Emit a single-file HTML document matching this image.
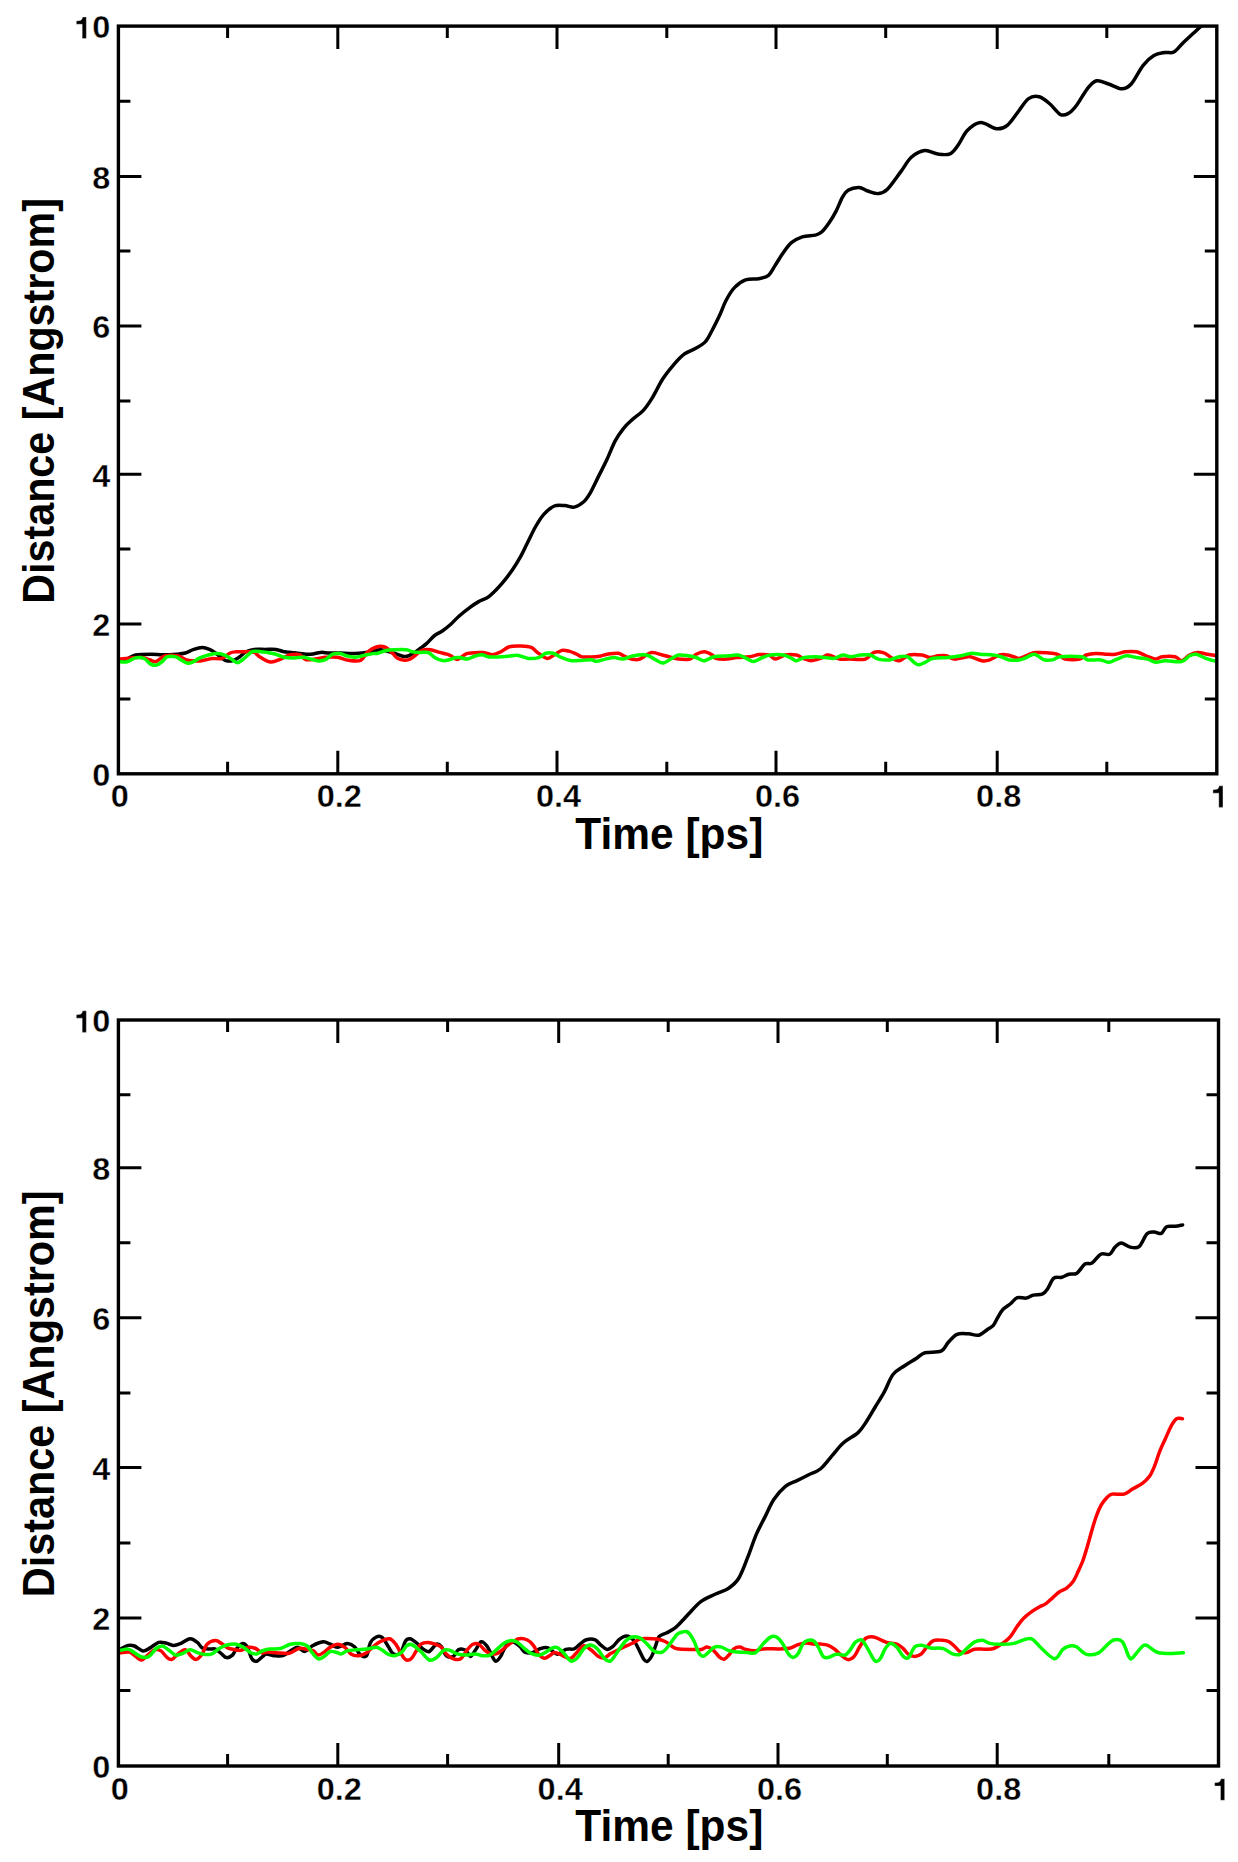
<!DOCTYPE html>
<html><head><meta charset="utf-8"><style>
html,body{margin:0;padding:0;background:#fff;width:1238px;height:1862px;overflow:hidden}
svg{display:block}
.t{font-family:'Liberation Sans', sans-serif;font-weight:bold;font-size:30.8px;fill:#000;stroke:#fff;stroke-width:0.35px}
.ti{font-family:'Liberation Sans', sans-serif;font-weight:bold;font-size:44px;fill:#000}
</style></head><body>
<svg width="1238" height="1862" viewBox="0 0 1238 1862">
<rect width="1238" height="1862" fill="#fff"/>
<clipPath id="c0"><rect x="118.4" y="26.1" width="1098.4" height="747.7"/></clipPath>
<path d="M227.6 773.8v-12M227.6 26.1v12M337.8 773.8v-23M337.8 26.1v23M447.3 773.8v-12M447.3 26.1v12M557 773.8v-23M557 26.1v23M666.8 773.8v-12M666.8 26.1v12M776 773.8v-23M776 26.1v23M885.7 773.8v-12M885.7 26.1v12M997.2 773.8v-23M997.2 26.1v23M1106.8 773.8v-12M1106.8 26.1v12M118.4 699.1h12M1216.8 699.1h-12M118.4 624.1h23M1216.8 624.1h-23M118.4 548.9h12M1216.8 548.9h-12M118.4 474.3h23M1216.8 474.3h-23M118.4 400.9h12M1216.8 400.9h-12M118.4 326.1h23M1216.8 326.1h-23M118.4 251h12M1216.8 251h-12M118.4 176.4h23M1216.8 176.4h-23M118.4 101.2h12M1216.8 101.2h-12" stroke="#000" stroke-width="3.0" fill="none"/>
<g clip-path="url(#c0)">
<path d="M118.4 660.5C119.9 660.2 124.2 659.9 127.1 659C130 658.1 131.5 655.8 135.6 655C139.7 654.2 146.9 654.2 151.4 654.2C155.9 654.2 158.1 654.8 162.3 654.8C166.5 654.8 173 654.5 176.8 654.2C180.6 653.9 182.5 653.8 185.3 653C188.1 652.2 191 650.3 193.8 649.4C196.6 648.5 199.6 647.6 202.2 647.6C204.8 647.6 207.3 648.5 209.5 649.4C211.7 650.3 213.6 651.6 215.6 653C217.6 654.4 219.8 656.6 221.6 657.9C223.4 659.2 224.5 660.5 226.5 660.9C228.5 661.3 231.5 661 233.7 660.3C235.9 659.6 237.8 658.1 239.8 656.7C241.8 655.3 243.5 653 245.9 651.8C248.3 650.6 251.1 649.8 254.3 649.4C257.5 649 261.4 649.4 265 649.4C268.6 649.4 272.6 649 275.8 649.4C279 649.8 281.6 651.3 284.2 651.8C286.8 652.3 288.9 652.1 291.5 652.4C294.1 652.7 296.8 653.2 300 653.5C303.2 653.8 307.5 654.4 310.9 654.2C314.3 654 317.6 652.6 320.6 652.4C323.6 652.2 325.9 652.9 329.1 653C332.3 653.1 335.7 652.9 340 653C344.3 653.1 350 653.7 355 653.5C360 653.3 365.8 652.6 370 652C374.2 651.4 376.5 649.5 380.5 649.7C384.5 649.9 390.3 652.2 394.2 653.3C398.1 654.4 401.2 656.2 403.9 656.5C406.6 656.8 407.7 656.2 410.4 654.9C413.1 653.6 417.4 650.4 420.1 648.5C422.8 646.6 424.1 645.8 426.5 643.6C428.9 641.4 431.9 637.6 434.6 635.5C437.3 633.4 440 632.6 442.7 630.7C445.4 628.8 448.1 626.6 450.8 624.2C453.5 621.8 455.7 619 458.9 616.2C462.1 613.4 466.7 609.7 470 607.3C473.3 604.9 475.5 603.4 478.7 601.6C481.9 599.8 485.3 599.3 489.2 596.3C493.1 593.3 498 588.1 501.8 583.7C505.6 579.3 509.1 574.7 512.3 570.1C515.4 565.5 518.2 560.8 520.7 556.4C523.2 552 524.5 548.7 527 543.8C529.5 538.9 532.6 531.9 535.4 527C538.2 522.1 540.6 517.9 543.8 514.4C546.9 510.9 550.8 507.5 554.3 506C557.8 504.5 561.5 505.4 564.8 505.6C568.1 505.8 571.1 507.7 574.3 507.1C577.4 506.5 581.1 504.1 583.7 501.8C586.3 499.5 587.5 497.6 590 493.4C592.5 489.2 595.6 482.2 598.4 476.6C601.2 471 604 465.8 606.8 459.8C609.6 453.9 612.4 446.1 615.2 440.9C618 435.6 620.8 431.8 623.6 428.3C626.4 424.8 628.8 422.8 632 419.9C635.2 416.9 639.8 414.2 643.1 410.6C646.4 407.1 648.5 403.9 651.8 398.6C655.1 393.3 659.1 384.6 662.7 379C666.3 373.4 670 369 673.6 364.8C677.2 360.6 680.9 356.6 684.5 353.9C688.1 351.2 691.9 350.5 695.4 348.5C698.9 346.5 702.5 344.8 705.2 341.9C707.9 339 709.4 335.4 711.8 331C714.2 326.6 717 320.9 719.4 315.8C721.8 310.7 723.5 305.2 726 300.5C728.5 295.8 731.4 290.8 734.7 287.4C738 283.9 741.6 281.2 745.6 279.8C749.6 278.4 754.9 279.4 758.7 278.7C762.5 278 765.8 277.6 768.5 275.4C771.2 273.2 772.6 269.2 775 265.6C777.4 262 780 257.4 782.7 253.6C785.4 249.8 788.1 245.5 791.4 242.7C794.7 239.9 798.3 238.1 802.3 236.8C806.3 235.5 812.1 235.9 815.4 235.1C818.7 234.3 819.5 234 821.9 231.8C824.3 229.6 827.2 225.4 829.6 222C832 218.6 833.9 215.3 836.1 211.1C838.3 206.9 840.6 200.4 842.6 196.9C844.6 193.4 845.4 191.9 848.1 190.3C850.8 188.7 855.7 187.4 859 187.5C862.3 187.6 864.4 190 867.7 191C871 192 875.3 193.9 878.6 193.6C881.9 193.3 883.7 192.9 887.4 189.3C891.1 185.7 896.7 177.2 900.7 171.9C904.7 166.6 907.3 160.9 911.3 157.3C915.3 153.8 920.2 151.1 924.7 150.6C929.2 150.1 933.8 153.6 938 154.1C942.2 154.6 946.7 155.3 950 153.8C953.3 152.3 955.1 149.2 958 145.3C960.9 141.4 963.5 134.4 967.3 130.6C971.1 126.8 975.7 122.9 980.6 122.6C985.5 122.3 992.2 128.4 996.6 128.8C1001 129.2 1003.7 128.1 1007.3 125.3C1010.9 122.5 1014.5 116.5 1018 112C1021.5 107.5 1025 101.1 1028.6 98.6C1032.1 96.1 1035.7 95.9 1039.3 96.8C1042.9 97.7 1046.5 101 1050 104C1053.5 107 1057.5 113 1060.6 114.6C1063.7 116.1 1065.9 114.8 1068.6 113.3C1071.3 111.8 1073.5 109.4 1076.6 105.3C1079.7 101.2 1084 92.9 1087.3 88.8C1090.6 84.7 1093 81.6 1096.6 80.8C1100.1 80 1104.4 82.7 1108.6 84C1112.8 85.3 1118.1 88.8 1121.9 88.8C1125.7 88.8 1127.7 87.9 1131.2 84C1134.8 80.1 1139.4 70 1143.2 65.3C1147 60.5 1150.3 57.6 1153.9 55.5C1157.5 53.4 1161.3 53.1 1164.6 52.5C1167.9 51.9 1170.8 53.6 1173.9 52C1177 50.4 1179.9 45.9 1183.2 42.7C1186.5 39.5 1191 35.5 1193.9 32.8C1196.8 30.1 1198.5 28.6 1200.5 26.5C1202.5 24.4 1205.1 21.1 1206 20" stroke="#000" stroke-width="3.5" fill="none" stroke-linejoin="round" stroke-linecap="round"/>
<path d="M118.4 659.5C118.8 659.4 118.4 659.4 120.5 659.1C122.6 658.8 127.2 658.2 130.8 657.9C134.4 657.6 138.8 657.1 142 657.5C145.2 657.9 147.6 659.3 150 660C152.4 660.7 153.8 662.2 156.2 661.5C158.6 660.8 161.1 656.9 164.7 656C168.3 655.1 174.2 655.3 178 656C181.8 656.7 184.1 659.5 187.7 660.3C191.3 661.1 195.8 661.2 199.8 660.9C203.9 660.6 208.4 658.9 212 658.5C215.6 658.1 218.6 659.4 221.6 658.5C224.6 657.6 227.7 654.1 230.1 653C232.5 651.9 233.6 652 236.2 651.8C238.8 651.6 242.9 651.7 245.9 651.8C248.9 651.9 251.9 651.5 254.3 652.4C256.7 653.3 257.6 655.7 260.4 657.3C263.2 658.9 267.5 661.8 270.9 662.1C274.3 662.4 277.4 660.3 280.6 659.1C283.8 657.9 287.1 655.5 290.3 654.8C293.5 654.1 297.4 654 300 654.8C302.6 655.6 303 659.1 306 659.7C309 660.3 315 658.9 318.2 658.5C321.4 658.1 322.2 657.5 325.4 657.3C328.6 657.1 333.6 656.8 337.5 657.3C341.4 657.8 344.6 659.8 348.5 660.3C352.4 660.8 357.4 661.7 360.6 660.3C363.8 658.9 365.2 654 367.8 651.8C370.4 649.6 373.5 647.8 376.3 647C379.1 646.2 382.1 646 384.8 647C387.5 648 390.5 651.4 392.6 653.3C394.7 655.2 395.5 657.1 397.5 658.2C399.5 659.4 402.6 660.1 404.7 660.2C406.8 660.3 408.4 660 410.4 659C412.4 658 414.8 655.6 416.8 654.1C418.8 652.6 420.2 650.8 422.5 650.1C424.8 649.4 427.9 649.4 430.6 649.7C433.3 650 436 651.4 438.7 652.1C441.4 652.8 444.7 653.5 446.7 654.1C448.7 654.7 449.1 654.8 450.8 655.7C452.6 656.6 454.9 659.5 457.2 659.4C459.5 659.3 462.6 655.9 464.5 654.9C466.4 653.9 465.6 653.7 468.7 653.3C471.8 652.9 479.4 652.3 483.3 652.5C487.2 652.7 489.1 654.8 492 654.7C494.9 654.6 497.8 653.1 500.7 651.8C503.6 650.5 506 647.7 509.4 646.7C512.8 645.7 517.5 645.9 521.1 646C524.7 646.1 528.3 646.2 531.2 647.4C534.1 648.6 535.8 651.5 538.5 653.3C541.2 655.1 544.5 658.2 547.2 658.4C549.9 658.6 552.1 656 554.5 654.7C556.9 653.4 559.4 651 561.8 650.4C564.2 649.8 566.6 650.5 569 651.1C571.4 651.7 574.1 653 576.3 654C578.5 655 579.7 656.4 582.1 656.9C584.5 657.4 588 657 590.9 656.9C593.8 656.8 596.7 656.7 599.6 656.2C602.5 655.7 605.1 654.5 608.3 654C611.4 653.5 615.8 652.9 618.5 653.3C621.2 653.7 622.1 655.2 624.3 656.2C626.5 657.2 629 658.6 631.6 659.1C634.2 659.6 636.5 660.2 639.7 659.1C642.9 658 647.2 653.3 651 652.6C654.8 651.9 659.3 654.3 662.3 655C665.3 655.7 666.1 656 668.8 656.7C671.5 657.4 675 658.7 678.5 659.1C682 659.5 686.8 659.9 689.8 659.1C692.8 658.3 693.8 655.4 696.2 654.2C698.6 653 701.6 651.7 704.3 651.8C707 651.9 710.5 653.9 712.4 655C714.3 656.1 713.2 657.6 715.6 658.3C718 659 723.4 659.2 726.9 659.1C730.4 659 732.8 657.9 736.6 657.5C740.4 657.1 745.7 657.2 749.5 656.7C753.3 656.2 756 654.9 759.2 654.6C762.4 654.3 766.2 654.2 768.9 655C771.6 655.8 772.7 659.1 775.4 659.1C778.1 659.1 781.6 655.7 785.1 655C788.6 654.3 793.4 654.5 796.4 655C799.4 655.5 800.5 657.3 802.9 658.3C805.3 659.2 807.9 660.7 810.9 660.7C813.9 660.7 817.9 659.2 820.6 658.3C823.3 657.3 825.3 655.4 827.1 655C828.9 654.6 829.4 655.1 831.5 655.8C833.6 656.5 836.5 658.5 839.5 659.1C842.5 659.7 844.9 659.1 849.2 659.1C853.5 659.1 861.4 660.2 865.4 659.1C869.4 658 870.5 653.7 873.5 652.6C876.5 651.5 880.2 651.8 883.2 652.6C886.2 653.4 888.5 656.1 891.2 657.5C893.9 658.9 896.3 661.1 899.3 660.7C902.3 660.3 905.2 656 909 655C912.8 654 918.4 654.6 921.9 655C925.4 655.4 927.3 657.4 930 657.5C932.7 657.6 935.4 656.1 938.1 655.8C940.8 655.5 943.5 655.2 946.2 655.8C948.9 656.3 951.2 658.8 954.2 659.1C957.2 659.4 961.2 657.9 963.9 657.5C966.6 657.1 967.4 656.2 970.4 656.7C973.4 657.2 978.5 660.2 981.7 660.7C984.9 661.2 986.8 660.9 989.8 659.9C992.8 658.9 996.5 655.8 999.5 655C1002.5 654.2 1004.9 654.6 1007.6 655C1010.3 655.4 1013.5 657 1015.6 657.5C1017.7 658 1017.6 658.8 1020 658.3C1022.4 657.8 1027 655.2 1029.7 654.2C1032.4 653.2 1032.2 652.7 1036.2 652.6C1040.2 652.5 1049.9 652.9 1053.9 653.4C1057.9 653.9 1058.5 654.8 1060.4 655.8C1062.3 656.8 1062 658.5 1065.2 659.1C1068.4 659.7 1076.3 659.8 1079.8 659.1C1083.3 658.4 1083.5 656 1086.2 655C1088.9 654 1092.7 653.5 1095.9 653.4C1099.1 653.3 1102.4 654.1 1105.6 654.2C1108.8 654.3 1112.1 654.6 1115.3 654.2C1118.5 653.8 1121.5 652.2 1125 651.8C1128.5 651.4 1132.8 651.1 1136.3 651.8C1139.8 652.5 1142.8 654.6 1146 655.8C1149.2 657 1153 659 1155.7 659.1C1158.4 659.2 1159 657.1 1162.2 656.7C1165.4 656.3 1171.9 656 1175.1 656.7C1178.3 657.4 1179.1 661 1181.5 660.7C1183.9 660.4 1186.9 656.4 1189.6 655C1192.3 653.6 1194.7 652.7 1197.7 652.6C1200.7 652.5 1204.2 653.7 1207.4 654.2C1210.6 654.7 1215.2 655.5 1216.8 655.8" stroke="#f00" stroke-width="3.5" fill="none" stroke-linejoin="round" stroke-linecap="round"/>
<path d="M118.4 661.5C119.9 661.5 124.2 662.3 127.1 661.7C130 661.1 132.8 658.4 135.6 657.9C138.4 657.4 141.7 657.5 144.1 658.5C146.5 659.5 148.1 662.8 150.1 663.9C152.1 665 154.2 665.5 156.2 665.1C158.2 664.7 160.5 662.9 162.3 661.5C164.1 660.1 164.9 657.7 167.1 656.9C169.3 656.1 173.2 656.3 175.6 656.9C178 657.5 179.6 659.2 181.6 660.3C183.6 661.4 185.7 663.1 187.7 663.3C189.7 663.5 191.8 662.4 193.8 661.5C195.8 660.6 197.6 658.9 199.8 657.9C202 656.9 204.5 656.1 207.1 655.4C209.7 654.7 212.8 653.7 215.6 653.6C218.4 653.5 221.4 653.9 224 654.8C226.6 655.7 229.1 657.8 231.3 659.1C233.5 660.4 235.4 662.7 237.4 662.7C239.4 662.7 241.4 660.6 243.4 659.1C245.4 657.6 247.7 654.9 249.5 653.6C251.3 652.3 251.3 651.4 254.3 651.2C257.3 651 263.7 651.9 267.3 652.4C270.9 652.9 273 653.4 275.8 654.2C278.6 655 281.2 656.7 284.2 657.3C287.2 657.9 290.7 657.9 293.9 657.9C297.1 657.9 300.8 657.1 303.6 657.3C306.4 657.5 308.5 658.5 310.9 659.1C313.3 659.7 315.8 660.8 318.2 660.9C320.6 661 323 660.8 325.4 659.7C327.8 658.6 330.3 655.2 332.7 654.2C335.1 653.2 337.6 653.3 340 653.6C342.4 653.9 344.6 655.4 347.2 656C349.8 656.6 352.9 657.4 355.7 657.3C358.5 657.2 361.4 656 364.2 655.4C367 654.8 370.4 654 372.7 653.6C375 653.2 375.9 653.7 378.1 653.2C380.4 652.7 383.5 651.1 386.2 650.5C388.9 649.9 390.8 649.8 394.2 649.7C397.6 649.6 403.3 649.4 406.3 649.7C409.3 650 409.7 651.2 412 651.7C414.3 652.2 417.4 652.4 420.1 652.5C422.8 652.6 425.8 651.7 428.2 652.5C430.6 653.3 432.2 656 434.6 657.4C437 658.8 440.3 660.2 442.7 660.6C445.1 661 447.2 660.3 449.2 659.8C451.2 659.3 453 658.2 454.8 657.8C456.6 657.4 457.9 657.4 460 657.6C462.1 657.8 464.9 659.3 467.3 659.1C469.7 658.9 472.1 656.9 474.5 656.2C476.9 655.5 479.4 654.6 481.8 654.7C484.2 654.8 486.4 656.5 489.1 656.9C491.8 657.3 494.7 657 497.8 656.9C500.9 656.8 504.6 656.5 508 656.2C511.4 656 514.8 655 518.2 655.4C521.6 655.8 524.9 658 528.3 658.4C531.7 658.8 535.6 658.5 538.5 657.6C541.4 656.8 543.4 654 545.8 653.3C548.2 652.6 550.3 652.6 553 653.3C555.7 654 558.9 656.4 561.8 657.6C564.7 658.8 567.4 660 570.5 660.5C573.6 661 577.3 660.6 580.7 660.5C584.1 660.4 588.2 659.7 590.9 659.8C593.6 659.9 594.3 661.4 596.7 661.3C599.1 661.2 602.5 659.7 605.4 659.1C608.3 658.5 611.2 657.6 614.1 657.6C617 657.6 619.9 659.3 622.8 659.1C625.7 658.9 627.7 656.9 631.6 656.2C635.5 655.5 642.2 654.4 646.2 655C650.2 655.6 653 658.5 655.8 659.9C658.6 661.2 660.4 663.4 663.1 663.1C665.8 662.8 669.4 659.6 672 658.3C674.6 656.9 675.8 655.4 678.5 655C681.2 654.6 685.2 655.4 688.2 655.8C691.2 656.2 693.5 656.7 696.2 657.5C698.9 658.3 701.3 660.8 704.3 660.7C707.3 660.6 709.7 657.5 714 656.7C718.3 655.9 726.2 656.1 730.2 655.8C734.2 655.5 735.5 654.6 738.2 655C740.9 655.4 743.7 657.2 746.3 658.3C748.9 659.4 750.9 661.6 753.6 661.5C756.3 661.4 759.7 658.6 762.5 657.5C765.3 656.4 767 655.4 770.5 655C774 654.6 780 654.5 783.5 655C787 655.5 789.5 657.3 791.6 658.3C793.8 659.2 794.2 660.8 796.4 660.7C798.5 660.6 801.3 658.2 804.5 657.5C807.7 656.8 812.4 656.7 815.8 656.7C819.2 656.7 821.9 657.2 825 657.5C828.1 657.8 831.7 658.7 834.7 658.3C837.7 657.9 840.1 655.3 842.8 655C845.5 654.7 847.8 656.7 850.8 656.7C853.8 656.7 857.3 655.3 860.5 655C863.7 654.7 867.2 654.3 870.2 655C873.2 655.7 875.1 658.3 878.3 659.1C881.5 659.9 886.1 660.3 889.6 659.9C893.1 659.5 896.3 657.2 899.3 656.7C902.3 656.2 905 655.8 907.4 656.7C909.8 657.6 912 661 913.9 662.3C915.8 663.6 916.8 664.7 918.7 664.7C920.6 664.7 922.8 663.4 925.2 662.3C927.6 661.2 929.4 659.1 933.2 658.3C937 657.5 943.2 657.9 947.8 657.5C952.4 657.1 956.9 656.5 960.7 655.8C964.5 655.1 967.2 653.7 970.4 653.4C973.6 653.1 976.3 653.9 980.1 654.2C983.9 654.5 989.5 654.6 993 655C996.5 655.4 998.4 655.9 1001.1 656.7C1003.8 657.5 1006.2 659.4 1009.2 659.9C1012.2 660.4 1016 660.3 1018.9 659.9C1021.8 659.5 1023.9 658.5 1026.5 657.5C1029.1 656.5 1031.5 653.8 1034.5 654.2C1037.5 654.6 1041.2 659 1044.2 659.9C1047.2 660.8 1049.6 660.4 1052.3 659.9C1055 659.4 1055.6 657.2 1060.4 656.7C1065.2 656.2 1076.8 656.2 1081.4 656.7C1086 657.2 1084.7 659.4 1087.9 659.9C1091.1 660.4 1097.3 659.5 1100.8 659.9C1104.3 660.3 1106.2 662.4 1108.9 662.3C1111.6 662.2 1114 660.2 1116.9 659.1C1119.9 658 1123.4 656.1 1126.6 655.8C1129.8 655.5 1132.8 657 1136.3 657.5C1139.8 658 1144.4 658.3 1147.6 659.1C1150.8 659.9 1152.7 662 1155.7 662.3C1158.7 662.6 1161.1 660.8 1165.4 660.7C1169.7 660.6 1177.5 662.3 1181.5 661.5C1185.5 660.7 1187.2 657 1189.6 655.8C1192 654.6 1193.4 653.8 1196.1 654.2C1198.8 654.6 1202.3 657.1 1205.8 658.3C1209.2 659.5 1215 661 1216.8 661.5" stroke="#0f0" stroke-width="3.5" fill="none" stroke-linejoin="round" stroke-linecap="round"/>
</g>
<rect x="118.4" y="26.1" width="1098.4" height="747.7" stroke="#000" stroke-width="3.4" fill="none"/>
<g transform="translate(110.20 786.18) scale(1.055 1)"><text x="-17.12" y="0" class="t">0</text></g>
<g transform="translate(110.20 636.48) scale(1.055 1)"><text x="-17.12" y="0" class="t">2</text></g>
<g transform="translate(110.20 486.68) scale(1.055 1)"><text x="-17.12" y="0" class="t">4</text></g>
<g transform="translate(110.20 338.48) scale(1.055 1)"><text x="-17.12" y="0" class="t">6</text></g>
<g transform="translate(110.20 188.78) scale(1.055 1)"><text x="-17.12" y="0" class="t">8</text></g>
<g transform="translate(110.20 38.48) scale(1.055 1)"><path d="M378 700L378 0L250 0L250 462L69 462L69 570L190 585C230 600 252 640 262 700Z" transform="translate(-34.25 0.00) scale(0.03080 -0.03080)" fill="#000" stroke="#fff" stroke-width="0.35" vector-effect="non-scaling-stroke"/><text x="-17.12" y="0" class="t">0</text></g>
<g transform="translate(119.90 807.38) scale(1.055 1)"><text x="-8.56" y="0" class="t">0</text></g>
<g transform="translate(339.30 807.38) scale(1.055 1)"><text x="-21.41" y="0" class="t">0.2</text></g>
<g transform="translate(558.50 807.38) scale(1.055 1)"><text x="-21.41" y="0" class="t">0.4</text></g>
<g transform="translate(777.50 807.38) scale(1.055 1)"><text x="-21.41" y="0" class="t">0.6</text></g>
<g transform="translate(998.70 807.38) scale(1.055 1)"><text x="-21.41" y="0" class="t">0.8</text></g>
<g transform="translate(1219.70 807.38) scale(1.055 1)"><path d="M378 700L378 0L250 0L250 462L69 462L69 570L190 585C230 600 252 640 262 700Z" transform="translate(-8.56 0.00) scale(0.03080 -0.03080)" fill="#000" stroke="#fff" stroke-width="0.35" vector-effect="non-scaling-stroke"/></g>
<text x="669.3" y="849.2" text-anchor="middle" class="ti" textLength="188" lengthAdjust="spacingAndGlyphs">Time [ps]</text>
<text transform="translate(54.2 400.9) rotate(-90)" x="0" y="0" text-anchor="middle" class="ti" textLength="405.7" lengthAdjust="spacingAndGlyphs">Distance [Angstrom]</text>
<clipPath id="c1"><rect x="118.4" y="1020" width="1100.1" height="746"/></clipPath>
<path d="M227.6 1766v-12M227.6 1020v12M337.8 1766v-23M337.8 1020v23M447.6 1766v-12M447.6 1020v12M558.7 1766v-23M558.7 1020v23M668.2 1766v-12M668.2 1020v12M778 1766v-23M778 1020v23M887.3 1766v-12M887.3 1020v12M997.2 1766v-23M997.2 1020v23M1108.8 1766v-12M1108.8 1020v12M118.4 1690.6h12M1218.5 1690.6h-12M118.4 1618.1h23M1218.5 1618.1h-23M118.4 1543h12M1218.5 1543h-12M118.4 1467.6h23M1218.5 1467.6h-23M118.4 1392.9h12M1218.5 1392.9h-12M118.4 1317.8h23M1218.5 1317.8h-23M118.4 1242.8h12M1218.5 1242.8h-12M118.4 1167.7h23M1218.5 1167.7h-23M118.4 1094.7h12M1218.5 1094.7h-12" stroke="#000" stroke-width="3.0" fill="none"/>
<g clip-path="url(#c1)">
<path d="M118.4 1649.5C118.8 1649.4 118.8 1649.8 120.5 1649.1C122.2 1648.4 126 1645.9 128.3 1645.4C130.6 1644.9 132 1645.1 134.4 1646C136.8 1646.9 140.3 1650.6 142.9 1650.9C145.5 1651.2 147.5 1649.3 150.1 1647.9C152.7 1646.5 156 1643.2 158.6 1642.4C161.2 1641.6 163.5 1642.5 165.9 1643C168.3 1643.5 170.8 1645.3 173.2 1645.4C175.6 1645.5 177.6 1644.7 180.4 1643.6C183.2 1642.5 187.3 1639 190.1 1638.8C192.9 1638.6 195.4 1640.9 197.4 1642.4C199.4 1643.9 200.2 1646.8 202.2 1647.9C204.2 1649 207.3 1648.9 209.5 1649.1C211.7 1649.3 213.6 1648.3 215.6 1649.1C217.6 1649.9 219.8 1652.5 221.6 1653.9C223.4 1655.3 224.7 1657.4 226.5 1657.6C228.3 1657.8 230.9 1656.5 232.5 1655.1C234.1 1653.7 234.6 1651 236.2 1649.1C237.8 1647.2 240.4 1644 242.2 1643.6C244 1643.2 245.5 1644.2 247.1 1646.7C248.7 1649.2 250.3 1656.4 251.9 1658.8C253.5 1661.2 255 1661.6 256.8 1661.2C258.6 1660.8 261.2 1657.6 262.8 1656.4C264.4 1655.2 264.2 1654 266.1 1653.9C268.1 1653.8 271.7 1655.4 274.5 1655.7C277.3 1656 280.4 1656.5 283 1655.7C285.6 1654.9 287.9 1652.3 290.3 1650.9C292.7 1649.5 295.2 1647.2 297.6 1647.3C300 1647.4 302.4 1651.7 304.8 1651.5C307.2 1651.3 309.1 1647.6 312.1 1646C315.1 1644.4 320 1642.1 323 1641.8C326 1641.5 327.9 1643.3 330.3 1644.2C332.7 1645.1 334.7 1647.4 337.5 1647.3C340.3 1647.2 344.4 1643.7 347.2 1643.6C350 1643.5 352.3 1644.8 354.5 1646.7C356.7 1648.6 358.6 1653.6 360.6 1655.1C362.6 1656.6 365 1657.7 366.6 1655.7C368.2 1653.7 368.7 1646.1 370.3 1643C371.9 1639.9 374.3 1637.9 376.3 1637C378.3 1636.1 380.4 1636 382.4 1637.6C384.4 1639.2 386.6 1644 388.4 1646.7C390.2 1649.4 391.3 1652.9 393.3 1653.9C395.3 1654.9 398.6 1654.8 400.6 1652.7C402.6 1650.6 403.9 1643.5 405.4 1641.2C406.9 1638.9 408.1 1638.6 409.8 1638.8C411.6 1639 413.7 1640.7 415.9 1642.4C418.1 1644.1 421 1647.6 423.2 1649.1C425.4 1650.6 427 1652.3 429.2 1651.5C431.4 1650.7 434.5 1645 436.5 1644.2C438.5 1643.4 439.8 1644.8 441.4 1646.7C443 1648.6 444.2 1654.1 446.2 1655.7C448.2 1657.3 451.5 1657.4 453.5 1656.4C455.5 1655.4 456.3 1650.7 458.3 1649.7C460.3 1648.7 463.6 1649.2 465.6 1650.3C467.6 1651.4 468.8 1656.4 470.4 1656.4C472 1656.4 473.5 1652.7 475.3 1650.3C477.1 1647.9 479.3 1642.4 481.3 1641.8C483.3 1641.2 485.6 1644.3 487.4 1646.7C489.2 1649.1 490.8 1654 492.2 1656.4C493.6 1658.8 494.5 1661.2 495.9 1661.2C497.3 1661.2 499.3 1658.5 500.7 1656.4C502.1 1654.3 503 1650.7 504.4 1648.5C505.8 1646.3 507.6 1644 509.2 1643C510.8 1642 512.3 1641.8 514.1 1642.4C515.9 1643 518.3 1645.1 520.1 1646.7C521.9 1648.3 523 1651.1 525 1652.1C527 1653.1 529.6 1653.3 532.2 1652.7C534.8 1652.1 538.1 1649.3 540.7 1648.5C543.3 1647.7 545.2 1647 548 1647.9C550.8 1648.9 554.3 1654 557.3 1654.2C560.3 1654.5 563 1650.3 565.8 1649.4C568.6 1648.5 571.8 1649.7 574.2 1648.8C576.6 1647.9 578.3 1645.4 580.3 1643.9C582.3 1642.4 584 1640.4 586.4 1639.7C588.8 1639 592.4 1638.8 594.8 1639.7C597.2 1640.6 598.9 1643.5 600.9 1645.1C602.9 1646.7 605 1649.2 607 1649.4C609 1649.6 611 1648 613 1646.4C615 1644.8 616.9 1641.4 619.1 1639.7C621.3 1638 623.9 1636 626.3 1636.1C628.7 1636.2 631.6 1638.2 633.6 1640.3C635.6 1642.4 636.9 1645.8 638.5 1648.8C640.1 1651.8 641.9 1656.4 643.3 1658.5C644.7 1660.6 645.5 1661.9 646.9 1661.5C648.3 1661.1 650.4 1658.5 651.8 1656C653.2 1653.5 654.2 1649.6 655.4 1646.4C656.6 1643.2 657.2 1638.9 659 1636.7C660.8 1634.5 663.7 1634.4 666.3 1633C668.9 1631.6 672 1630.4 674.8 1628.2C677.6 1626 680.8 1622.3 683.3 1619.7C685.8 1617.1 687 1615.6 690 1612.5C693 1609.4 696.8 1604.4 701.1 1601.3C705.4 1598.2 711 1596.2 715.6 1594C720.2 1591.8 724.8 1590.9 728.7 1588.2C732.6 1585.5 735.8 1583.1 738.9 1578C742 1572.9 744.7 1565 747.6 1557.7C750.5 1550.4 753.4 1541.2 756.3 1534.4C759.2 1527.6 762.1 1522.7 765 1516.9C767.9 1511.1 770.4 1504.6 773.8 1499.5C777.2 1494.4 781.5 1489.6 785.4 1486.4C789.3 1483.2 793.1 1482.5 797 1480.6C800.9 1478.7 804.8 1476.7 808.7 1474.8C812.6 1472.9 816.4 1472.2 820.3 1469C824.2 1465.8 828 1460.3 831.9 1455.9C835.8 1451.5 839.1 1446.7 843.5 1442.8C847.9 1438.9 854.2 1436.2 858.1 1432.6C862 1429 863.9 1425.3 866.8 1421C869.7 1416.7 872.6 1411.3 875.5 1406.5C878.4 1401.7 881.4 1397.2 884.3 1391.9C887.2 1386.6 889.6 1378.9 893 1374.5C896.4 1370.1 900.7 1368.4 904.6 1365.7C908.5 1363 912.8 1360.7 916.2 1358.5C919.6 1356.3 920.9 1353.9 925 1352.7C929.1 1351.5 937.1 1352.9 941 1351.2C944.9 1349.5 945.5 1345.3 948.2 1342.5C950.9 1339.7 953.6 1335.8 957 1334.3C960.4 1332.8 965 1333.6 968.6 1333.8C972.2 1334 975.7 1335.9 978.8 1335.2C981.9 1334.5 984.7 1331.4 987.1 1329.7C989.5 1328 991.5 1327.4 993.3 1325.3C995.1 1323.2 996.2 1320 997.8 1317.3C999.4 1314.6 1001 1311.5 1003.1 1309.3C1005.2 1307.1 1007.8 1305.9 1010.2 1304C1012.6 1302.1 1014.6 1298.7 1017.3 1297.7C1020 1296.7 1023.5 1298.5 1026.2 1298.1C1028.9 1297.7 1030.6 1295.8 1033.3 1295.1C1036 1294.4 1039.8 1295.2 1042.2 1294.2C1044.6 1293.2 1045.6 1291.6 1047.5 1288.9C1049.4 1286.2 1051.4 1280.1 1053.8 1278.2C1056.2 1276.3 1059.2 1278 1061.7 1277.3C1064.2 1276.6 1066.4 1275 1068.9 1274.3C1071.4 1273.6 1074.2 1274.9 1076.9 1273.2C1079.6 1271.5 1082.4 1265.7 1084.9 1264C1087.4 1262.3 1089.3 1264.7 1092 1263.1C1094.7 1261.5 1097.8 1255.7 1100.8 1254.2C1103.8 1252.7 1107.3 1255.4 1109.7 1254.2C1112.1 1253 1113.2 1249 1115.1 1247.1C1117 1245.2 1118.8 1243 1121.3 1243C1123.8 1243 1127.2 1246.5 1130.2 1247.1C1133.2 1247.7 1136.3 1248.8 1139.1 1246.6C1141.9 1244.4 1144.5 1236.2 1147 1233.8C1149.5 1231.4 1151.8 1232.1 1154.2 1232C1156.6 1231.9 1159.2 1234.3 1161.3 1233.4C1163.4 1232.5 1164.2 1227.9 1166.6 1226.7C1169 1225.5 1172.8 1226.6 1175.5 1226.3C1178.2 1226 1181.4 1225.1 1182.6 1224.9" stroke="#000" stroke-width="3.5" fill="none" stroke-linejoin="round" stroke-linecap="round"/>
<path d="M118.4 1652.7C118.8 1652.7 118.7 1652.8 120.5 1652.7C122.3 1652.6 127 1651.5 129.5 1652.1C132 1652.7 133.6 1655.1 135.6 1656.4C137.6 1657.7 139.7 1660.2 141.7 1660C143.7 1659.8 145.5 1656.8 147.7 1655.1C149.9 1653.4 152.8 1650.4 155 1649.7C157.2 1649 159 1649.6 161 1650.9C163 1652.2 165.3 1656.2 167.1 1657.6C168.9 1659 170.2 1660 172 1659.4C173.8 1658.8 175.8 1655.5 178 1653.9C180.2 1652.3 183.1 1649.3 185.3 1649.7C187.5 1650.1 189.5 1654.8 191.3 1656.4C193.1 1658 194.4 1659.8 196.2 1659.4C198 1659 200.4 1656.4 202.2 1653.9C204 1651.4 204.9 1646.4 207.1 1644.2C209.3 1642 213.2 1640.7 215.6 1640.6C218 1640.5 219.6 1642.4 221.6 1643.6C223.6 1644.8 225.5 1646.9 227.7 1647.9C229.9 1648.9 232.8 1649.3 235 1649.7C237.2 1650.1 238.8 1650.7 241 1650.3C243.2 1649.9 245.9 1647.6 248.3 1647.3C250.7 1647 253.3 1647.6 255.6 1648.5C257.9 1649.4 260.1 1652.3 262 1652.9C263.9 1653.5 264.8 1652.1 267.3 1652.1C269.8 1652.1 273.4 1652.5 277 1652.7C280.6 1652.9 285.5 1654 289.1 1653.3C292.7 1652.6 296 1649.2 298.8 1648.5C301.6 1647.8 303.6 1648.7 306 1649.1C308.4 1649.5 311.3 1649.9 313.3 1650.9C315.3 1651.9 316.4 1654.9 318.2 1655.1C320 1655.3 322.2 1653.4 324.2 1652.1C326.2 1650.8 328.1 1648.6 330.3 1647.3C332.5 1646 335.1 1644.2 337.5 1644.2C339.9 1644.2 342.6 1645.7 344.8 1647.3C347 1648.9 348.7 1652.5 350.9 1653.9C353.1 1655.3 355.5 1655.9 358.1 1655.7C360.7 1655.5 364 1654.3 366.6 1652.7C369.2 1651.1 371.5 1647.9 373.9 1646C376.3 1644.1 378.6 1642.4 381.2 1641.2C383.8 1640 387.3 1638.3 389.7 1638.8C392.1 1639.3 393.9 1641.9 395.7 1644.2C397.5 1646.5 399 1650.2 400.6 1652.7C402.2 1655.2 403.6 1658.5 405.4 1659.5C407.1 1660.5 409.4 1660.1 411.1 1658.8C412.9 1657.5 414.3 1653.9 415.9 1651.5C417.5 1649.1 418.8 1645.7 420.8 1644.2C422.8 1642.7 425.6 1642.4 428 1642.4C430.4 1642.4 433.1 1643.4 435.3 1644.2C437.5 1645 439.6 1645.7 441.4 1647.3C443.2 1648.9 444.2 1652 446.2 1653.9C448.2 1655.8 451.1 1658 453.5 1658.8C455.9 1659.6 458.5 1660.2 460.7 1658.8C462.9 1657.4 464.8 1652.7 466.8 1650.3C468.8 1647.9 470.9 1645.2 472.9 1644.2C474.9 1643.2 476.9 1643.2 478.9 1644.2C480.9 1645.2 483.2 1648.8 485 1650.3C486.8 1651.8 488 1652.7 489.8 1653.3C491.6 1653.9 493.9 1654.4 495.9 1653.9C497.9 1653.4 499.7 1651.9 501.9 1650.3C504.1 1648.7 506.4 1646.1 509.2 1644.2C512 1642.3 515.9 1639.5 518.9 1638.8C521.9 1638.1 525 1638.9 527.4 1640C529.8 1641.1 531.6 1643.1 533.4 1645.4C535.2 1647.7 536.5 1651.8 538.3 1653.9C540.1 1656 542.3 1658 544.3 1658.2C546.3 1658.4 548.5 1656.2 550.2 1655.2C552 1654.2 552.8 1652.4 554.8 1652.4C556.8 1652.4 559.5 1654.4 562.1 1655.4C564.7 1656.4 568 1659.2 570.6 1658.5C573.2 1657.8 575.7 1653.3 577.9 1651.2C580.1 1649.1 581.7 1645.9 583.9 1645.7C586.1 1645.5 588.8 1648.2 591.2 1650C593.6 1651.8 596.3 1655.3 598.5 1656.6C600.7 1657.9 602.5 1658.4 604.5 1657.9C606.5 1657.4 608.4 1654.9 610.6 1653.6C612.8 1652.3 615.5 1651.2 617.9 1650C620.3 1648.8 622.7 1647.5 625.1 1646.4C627.5 1645.3 630 1644.5 632.4 1643.3C634.8 1642.1 637.3 1639.9 639.7 1639.1C642.1 1638.3 644.1 1638.5 646.9 1638.5C649.7 1638.5 653.6 1638.6 656.6 1639.1C659.6 1639.6 662.7 1640.4 665.1 1641.5C667.5 1642.6 669.2 1644.5 671.2 1645.7C673.2 1646.9 673.6 1648.2 677.2 1648.8C680.8 1649.4 689 1649.4 693 1649.5C697 1649.6 698.8 1649.9 701.1 1649.5C703.5 1649.1 705.1 1647 707.1 1647.1C709.1 1647.2 711.2 1648.5 713.2 1650.1C715.2 1651.7 717.4 1655.3 719.2 1656.8C721 1658.3 722.5 1659.5 724.1 1659.2C725.7 1658.9 727.3 1656.7 728.9 1655C730.5 1653.3 732 1650.2 733.8 1648.9C735.6 1647.6 737.8 1647 739.8 1647.1C741.8 1647.2 743.3 1648.9 745.9 1649.5C748.5 1650.1 752.8 1650.8 755.6 1650.7C758.4 1650.6 758.9 1649.2 762.9 1648.9C766.9 1648.6 775.4 1649 779.8 1648.9C784.2 1648.8 786.5 1649 789.5 1648.3C792.5 1647.6 795.2 1645.6 798 1644.7C800.8 1643.8 803.9 1643 806.5 1642.9C809.1 1642.8 811.3 1643.9 813.7 1644.1C816.1 1644.3 818.6 1643.9 821 1644.1C823.4 1644.3 826.1 1644.5 828.3 1645.3C830.5 1646.1 832.3 1647.4 834.3 1648.9C836.3 1650.4 838.1 1652.7 840.4 1654.5C842.6 1656.3 845.5 1659.3 847.8 1659.6C850.1 1659.9 852.3 1658.5 854.2 1656.4C856.1 1654.4 857.5 1650.3 859.4 1647.3C861.3 1644.3 863.4 1640 865.8 1638.3C868.2 1636.6 871 1636.7 873.6 1637C876.2 1637.3 879 1639.2 881.4 1640.2C883.8 1641.2 885.2 1642.2 887.8 1642.8C890.4 1643.4 894.3 1643.1 896.9 1644.1C899.5 1645.1 901.4 1646.9 903.3 1648.6C905.2 1650.3 906.5 1653.1 908.5 1654.4C910.5 1655.7 912.9 1656.5 915 1656.4C917.1 1656.3 919.5 1655.3 921.4 1653.8C923.3 1652.3 924.7 1649.5 926.6 1647.3C928.5 1645.1 930.4 1642 933 1640.8C935.6 1639.6 939.5 1640.1 942.1 1640.2C944.7 1640.3 946.5 1640.4 948.6 1641.5C950.8 1642.6 953.1 1645 955 1646.7C956.9 1648.4 958.2 1650.8 960.2 1651.8C962.2 1652.8 964.3 1652.9 966.7 1652.5C969.1 1652.1 971.4 1649.8 974.4 1649.2C977.4 1648.7 981.5 1649.3 984.7 1649.2C987.9 1649.1 990.6 1649.6 993.8 1648.5C996.9 1647.4 1000.8 1644.6 1003.6 1642.6C1006.4 1640.6 1008.1 1639.3 1010.4 1636.6C1012.6 1633.9 1014.9 1629.6 1017.1 1626.5C1019.4 1623.4 1021.3 1620.5 1023.9 1618C1026.5 1615.5 1029.9 1613 1032.4 1611.2C1035 1609.4 1036.9 1608.3 1039.2 1607C1041.5 1605.7 1043.7 1605.2 1046 1603.6C1048.3 1602 1050.5 1599.6 1052.8 1597.6C1055.1 1595.6 1057.3 1593.2 1059.6 1591.7C1061.8 1590.2 1064 1590 1066.3 1588.3C1068.5 1586.6 1071.1 1584.3 1073.1 1581.5C1075.1 1578.7 1076.5 1575 1078.2 1571.3C1079.9 1567.6 1081.8 1563.7 1083.3 1559.5C1084.8 1555.3 1086.1 1550.7 1087.5 1545.9C1088.9 1541.1 1090.4 1535.4 1091.8 1530.6C1093.2 1525.8 1094.5 1521.2 1096 1517C1097.5 1512.8 1099.3 1508.5 1101.1 1505.2C1102.9 1502 1105.2 1499.3 1107 1497.5C1108.8 1495.7 1109.3 1494.7 1112.1 1494.1C1114.9 1493.5 1120.6 1494.9 1124 1494.1C1127.4 1493.3 1129.4 1490.9 1132.5 1489.1C1135.6 1487.3 1139.9 1485.2 1142.7 1483.1C1145.5 1481 1147.5 1479.1 1149.5 1476.3C1151.5 1473.5 1152.8 1470.3 1154.5 1466.2C1156.2 1462.1 1157.8 1456.4 1159.6 1451.7C1161.4 1447 1163.6 1442.6 1165.6 1438.2C1167.6 1433.8 1169.7 1428.7 1171.5 1425.4C1173.3 1422.2 1174.8 1419.8 1176.6 1418.7C1178.4 1417.6 1181.5 1418.7 1182.5 1418.7" stroke="#f00" stroke-width="3.5" fill="none" stroke-linejoin="round" stroke-linecap="round"/>
<path d="M118.4 1650.3C118.8 1650.3 118.8 1650.5 120.5 1650.3C122.2 1650.1 126 1648.7 128.3 1649.1C130.6 1649.5 132.2 1651.4 134.4 1652.7C136.6 1654 139.3 1656.4 141.7 1657C144.1 1657.6 146.5 1657.8 148.9 1656.4C151.3 1655 154 1650.2 156.2 1648.5C158.4 1646.8 160.3 1645.8 162.3 1646C164.3 1646.2 166.1 1648.2 168.3 1649.7C170.5 1651.2 173.2 1654.5 175.6 1655.1C178 1655.7 180.5 1654.2 182.9 1653.3C185.3 1652.4 187.7 1649.8 190.1 1649.7C192.5 1649.6 195 1651.9 197.4 1652.7C199.8 1653.5 202.3 1654.3 204.7 1654.5C207.1 1654.7 209.5 1654.9 211.9 1653.9C214.3 1652.9 216.6 1650 219.2 1648.5C221.8 1647 224.9 1645.5 227.7 1644.8C230.5 1644.1 233.6 1643.8 236.2 1644.2C238.8 1644.6 241 1645.9 243.4 1647.3C245.8 1648.7 248.5 1651.6 250.7 1652.7C252.9 1653.8 254.9 1654.2 256.8 1653.9C258.7 1653.6 259.9 1651.8 262 1651C264.1 1650.2 266.6 1649.5 269.7 1649.1C272.8 1648.7 277.2 1649.3 280.6 1648.5C284 1647.7 287.1 1645 290.3 1644.2C293.5 1643.4 297.2 1643.3 300 1643.6C302.8 1643.9 305.3 1644.5 307.3 1646C309.3 1647.5 310.3 1650.6 312.1 1652.7C313.9 1654.8 316.2 1658.2 318.2 1658.8C320.2 1659.4 322.2 1657.6 324.2 1656.4C326.2 1655.2 328.1 1652.1 330.3 1651.5C332.5 1650.9 335.7 1652.3 337.5 1652.7C339.3 1653.1 339.6 1654.2 341.2 1653.9C342.8 1653.6 344.6 1651.6 347.2 1650.9C349.8 1650.2 353.7 1650 356.9 1649.7C360.1 1649.4 363.4 1649.5 366.6 1649.1C369.8 1648.7 373.7 1647.1 376.3 1647.3C378.9 1647.5 380.4 1649.1 382.4 1650.3C384.4 1651.5 386.4 1653.6 388.4 1654.5C390.4 1655.4 392.3 1656.1 394.5 1655.7C396.7 1655.3 399.7 1653.8 401.8 1652.1C403.9 1650.4 405.2 1646.7 407 1645.5C408.8 1644.3 410 1643.8 412.3 1644.8C414.6 1645.8 418 1649 420.8 1651.5C423.6 1654 426.6 1659 429.2 1660C431.8 1661 434.1 1659.2 436.5 1657.6C438.9 1656 441.6 1651.5 443.8 1650.3C446 1649.1 447.6 1649.7 449.8 1650.3C452 1650.9 454.5 1653.1 457.1 1653.9C459.7 1654.7 462.6 1655.1 465.6 1655.1C468.6 1655.1 472.5 1653.8 475.3 1653.9C478.1 1654 480.1 1655.5 482.5 1655.7C484.9 1655.9 487.4 1656.2 489.8 1655.1C492.2 1654 494.7 1651.1 497.1 1649.1C499.5 1647.1 502 1644.4 504.4 1643C506.8 1641.6 509.4 1640.7 511.6 1640.6C513.8 1640.5 515.7 1641.2 517.7 1642.4C519.7 1643.6 521.5 1646.1 523.7 1647.9C525.9 1649.7 528.4 1652.1 531 1653.3C533.6 1654.5 536.9 1655.4 539.5 1655.1C542.1 1654.8 544.7 1652.7 546.8 1651.5C548.9 1650.3 550.2 1648.9 552 1648.2C553.8 1647.5 555.4 1646.9 557.3 1647.6C559.2 1648.3 561.1 1650.2 563.3 1652.4C565.5 1654.6 568.4 1659.9 570.6 1660.9C572.8 1661.9 574.5 1660.5 576.7 1658.5C578.9 1656.5 581.7 1651 583.9 1648.8C586.1 1646.6 587.8 1645.1 590 1645.1C592.2 1645.1 594.9 1646.6 597.3 1648.8C599.7 1651 602.3 1656.5 604.5 1658.5C606.7 1660.5 608.4 1662.1 610.6 1660.9C612.8 1659.7 615.5 1654.4 617.9 1651.2C620.3 1648 622.9 1643.8 625.1 1641.5C627.3 1639.2 628.8 1637.9 631.2 1637.3C633.6 1636.7 637.1 1636.8 639.7 1637.9C642.3 1639 644.5 1641.7 646.9 1643.9C649.3 1646.1 651.6 1649.9 654.2 1651.2C656.8 1652.5 660.1 1653 662.7 1651.8C665.3 1650.6 667.6 1646.8 670 1643.9C672.4 1641 675 1636.2 677.2 1634.2C679.4 1632.2 681.5 1632.1 683.3 1631.8C685.1 1631.5 686.3 1630.8 688.1 1632.4C689.9 1634 692.5 1638.1 694.2 1641.5C696 1644.9 697.1 1650.1 698.6 1652.6C700.1 1655 701.7 1656.4 703.5 1656.2C705.3 1656 707.7 1652.9 709.5 1651.4C711.3 1649.9 712.4 1647.8 714.4 1647.1C716.4 1646.4 719.3 1646.5 721.7 1647.1C724.1 1647.7 726.3 1649.9 728.9 1650.7C731.5 1651.5 734.4 1651.7 737.4 1652C740.4 1652.3 744.1 1652.5 747.1 1652.6C750.1 1652.7 753 1654 755.6 1652.6C758.2 1651.2 760.5 1646.6 762.9 1644.1C765.3 1641.6 767.9 1638.6 770.1 1637.4C772.3 1636.2 774.2 1635.9 776.2 1636.8C778.2 1637.7 780.2 1640.1 782.2 1642.9C784.2 1645.7 786.5 1651.4 788.3 1653.8C790.1 1656.2 791.5 1657.4 793.1 1657.4C794.7 1657.4 796.4 1656 798 1653.8C799.6 1651.6 801.2 1646.3 802.8 1644.1C804.4 1641.9 805.9 1640.9 807.7 1640.4C809.5 1639.9 811.9 1639.8 813.7 1641C815.5 1642.2 817 1645.1 818.6 1647.7C820.2 1650.3 821.8 1655.2 823.4 1656.8C825 1658.4 826.3 1657.8 828.3 1657.4C830.3 1657 833.6 1654.9 835.6 1654.4C837.6 1653.9 838.4 1654.4 840 1654.5C841.6 1654.6 843.5 1655.9 845.2 1655.1C846.9 1654.3 848.6 1652.1 850.3 1649.9C852 1647.7 853.5 1643.7 855.5 1642.1C857.5 1640.5 859.9 1638.9 862 1640.2C864.1 1641.5 866.2 1646.5 868.4 1649.9C870.5 1653.4 872.9 1659.4 874.9 1660.9C876.9 1662.4 878.4 1661 880.1 1658.9C881.8 1656.9 883.5 1651.2 885.2 1648.6C886.9 1646 888.5 1643.6 890.4 1643.4C892.3 1643.2 894.8 1645.1 896.9 1647.3C899 1649.5 901.4 1654.7 903.3 1656.4C905.2 1658.1 906.5 1659.2 908.5 1657.6C910.5 1656 912.6 1648.7 915 1646.7C917.4 1644.7 920.1 1645.2 922.7 1645.4C925.3 1645.6 927 1647.5 930.5 1648C934 1648.5 939.8 1647.6 943.4 1648.6C947 1649.6 949.6 1652.8 952.4 1653.8C955.2 1654.8 957.8 1655.3 960.2 1654.4C962.6 1653.5 964.3 1650.6 966.7 1648.6C969.1 1646.5 971.8 1643.5 974.4 1642.1C977 1640.7 979.6 1640 982.2 1640.2C984.8 1640.4 986.9 1642.7 989.9 1643.4C992.9 1644.1 996.2 1644.3 1000.2 1644.3C1004.2 1644.3 1009.5 1644.2 1013.7 1643.4C1017.9 1642.6 1022.5 1639.9 1025.6 1639.2C1028.7 1638.5 1029.9 1637.8 1032.4 1639.2C1035 1640.6 1037.2 1644.5 1040.9 1647.7C1044.6 1651 1050.8 1658.4 1054.5 1658.7C1058.2 1659 1060.4 1651.5 1062.9 1649.4C1065.4 1647.3 1067.4 1646.4 1069.7 1646C1072 1645.6 1073.7 1645.4 1076.5 1646.8C1079.3 1648.2 1083 1653.4 1086.7 1654.4C1090.4 1655.4 1095.2 1654.3 1098.6 1652.8C1102 1651.2 1104.5 1647.2 1107 1645.1C1109.5 1643 1111.2 1640.6 1113.8 1640C1116.3 1639.4 1119.8 1638.9 1122.3 1641.7C1124.8 1644.5 1127.4 1654.3 1129.1 1657C1130.8 1659.7 1130.5 1659.3 1132.5 1657.8C1134.5 1656.2 1138.7 1649.8 1141 1647.7C1143.3 1645.6 1143.6 1644.4 1146.1 1645.1C1148.6 1645.8 1152.8 1650.5 1156.2 1651.9C1159.6 1653.3 1161.9 1653.4 1166.4 1653.6C1170.9 1653.8 1180.6 1652.9 1183.4 1652.8" stroke="#0f0" stroke-width="3.5" fill="none" stroke-linejoin="round" stroke-linecap="round"/>
</g>
<rect x="118.4" y="1020" width="1100.1" height="746" stroke="#000" stroke-width="3.4" fill="none"/>
<g transform="translate(110.20 1778.38) scale(1.055 1)"><text x="-17.12" y="0" class="t">0</text></g>
<g transform="translate(110.20 1630.48) scale(1.055 1)"><text x="-17.12" y="0" class="t">2</text></g>
<g transform="translate(110.20 1479.98) scale(1.055 1)"><text x="-17.12" y="0" class="t">4</text></g>
<g transform="translate(110.20 1330.18) scale(1.055 1)"><text x="-17.12" y="0" class="t">6</text></g>
<g transform="translate(110.20 1180.08) scale(1.055 1)"><text x="-17.12" y="0" class="t">8</text></g>
<g transform="translate(110.20 1032.38) scale(1.055 1)"><path d="M378 700L378 0L250 0L250 462L69 462L69 570L190 585C230 600 252 640 262 700Z" transform="translate(-34.25 0.00) scale(0.03080 -0.03080)" fill="#000" stroke="#fff" stroke-width="0.35" vector-effect="non-scaling-stroke"/><text x="-17.12" y="0" class="t">0</text></g>
<g transform="translate(119.90 1800.28) scale(1.055 1)"><text x="-8.56" y="0" class="t">0</text></g>
<g transform="translate(339.30 1800.28) scale(1.055 1)"><text x="-21.41" y="0" class="t">0.2</text></g>
<g transform="translate(560.20 1800.28) scale(1.055 1)"><text x="-21.41" y="0" class="t">0.4</text></g>
<g transform="translate(779.50 1800.28) scale(1.055 1)"><text x="-21.41" y="0" class="t">0.6</text></g>
<g transform="translate(998.70 1800.28) scale(1.055 1)"><text x="-21.41" y="0" class="t">0.8</text></g>
<g transform="translate(1221.40 1800.28) scale(1.055 1)"><path d="M378 700L378 0L250 0L250 462L69 462L69 570L190 585C230 600 252 640 262 700Z" transform="translate(-8.56 0.00) scale(0.03080 -0.03080)" fill="#000" stroke="#fff" stroke-width="0.35" vector-effect="non-scaling-stroke"/></g>
<text x="669.3" y="1841.4" text-anchor="middle" class="ti" textLength="188" lengthAdjust="spacingAndGlyphs">Time [ps]</text>
<text transform="translate(54.2 1393.8) rotate(-90)" x="0" y="0" text-anchor="middle" class="ti" textLength="406.8" lengthAdjust="spacingAndGlyphs">Distance [Angstrom]</text>
</svg>
</body></html>
